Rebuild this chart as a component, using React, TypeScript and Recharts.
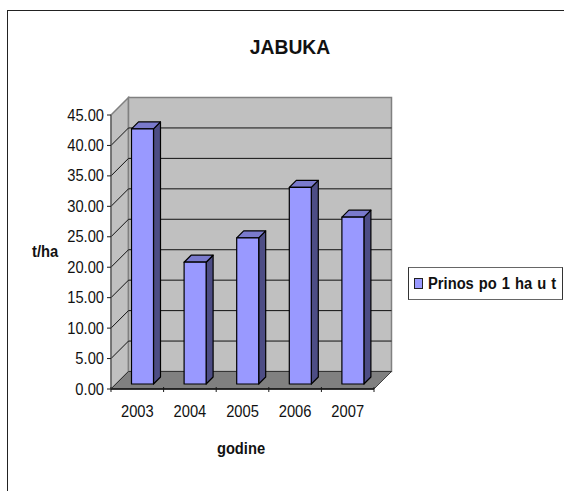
import React from 'react';
import { BarChart, Bar, XAxis, YAxis, CartesianGrid, ReferenceArea, Legend } from 'recharts';

const categories = ['2003', '2004', '2005', '2006', '2007'];
const values = [41.9, 20.0, 24.0, 32.3, 27.4];
const yTicks = [0, 5, 10, 15, 20, 25, 30, 35, 40, 45];
const seriesName = 'Prinos po 1 ha u t';
const data = categories.map((year, i) => ({ year, value: values[i] }));

const FONT = '"Liberation Sans", Arial, sans-serif';
const WALL_DEPTH = 17.5;
const BAR_DX = 5.5;
const BAR_DY = 5;
const BAR_DEPTH = 7;
const FRONT = '#9999FF';
const SIDE = '#4D4D85';
const TOP = '#7A7ACC';
const PLOT_W = 263;
const TEXT_SIZE = 16;
const TEXT_SQUEEZE = 0.92;

function Walls(props: any) {
  const { x, y, width, height } = props;
  const d = WALL_DEPTH;
  const b = y + height;
  const r = x + width;
  return (
    <g>
      <polygon points={`${x},${y} ${x + d},${y - d} ${x + d},${b - d} ${x},${b}`} fill="#C0C0C0" stroke="#808080" strokeWidth={1.5} />
      <rect x={x + d} y={y - d} width={width} height={height} fill="#C0C0C0" stroke="#808080" strokeWidth={1.5} />
      <polygon points={`${x},${b} ${r},${b} ${r + d},${b - d} ${x + d},${b - d}`} fill="#808080" stroke="#222" strokeWidth={0.8} />
    </g>
  );
}

function gridLine(props: any) {
  const { x1, x2, y1, key } = props;
  if (y1 == null) return <g key={key} />;
  const d = WALL_DEPTH;
  return (
    <g key={key}>
      <line x1={x1} y1={y1} x2={x1 + d} y2={y1 - d} stroke="#111" strokeWidth={1} />
      <line x1={x1 + d} y1={y1 - d} x2={x2 + d} y2={y1 - d} stroke="#111" strokeWidth={1} />
    </g>
  );
}

function Bar3D(props: any) {
  const { x, y, width, height } = props;
  const fx = x + BAR_DX;
  const fy = y - BAR_DY;
  const d = BAR_DEPTH;
  const s = { stroke: '#000', strokeWidth: 1.2, strokeLinejoin: 'round' as const };
  return (
    <g>
      <polygon points={`${fx + width},${fy} ${fx + width + d},${fy - d} ${fx + width + d},${fy + height - d} ${fx + width},${fy + height}`} fill={SIDE} {...s} />
      <polygon points={`${fx},${fy} ${fx + d},${fy - d} ${fx + width + d},${fy - d} ${fx + width},${fy}`} fill={TOP} {...s} />
      <rect x={fx} y={fy} width={width} height={height} fill={FRONT} {...s} />
    </g>
  );
}

// Tall, slightly condensed lettering as in the reference.
function Squeezed({ x, y, anchor, bold, size, children }: any) {
  return (
    <text transform={`translate(${x},${y}) scale(${TEXT_SQUEEZE},1)`} textAnchor={anchor} fontFamily={FONT} fontWeight={bold ? 700 : 400} fontSize={size ?? TEXT_SIZE} fill="#111">
      {children}
    </text>
  );
}

function XTick(props: any) {
  const { x, y, payload, index } = props;
  const band = PLOT_W / categories.length;
  const left = x - band / 2;
  const right = x + band / 2;
  const top = y - 8;
  return (
    <g>
      <line x1={left} y1={top} x2={left} y2={top + 5} stroke="#1a1a1a" strokeWidth={1} />
      {index === categories.length - 1 && <line x1={right} y1={top} x2={right} y2={top + 5} stroke="#1a1a1a" strokeWidth={1} />}
      <Squeezed x={x} y={top + 29.5} anchor="middle">{payload.value}</Squeezed>
    </g>
  );
}

function YTick(props: any) {
  const { x, y, payload } = props;
  return <Squeezed x={x} y={y + 5.5} anchor="end">{Number(payload.value).toFixed(2)}</Squeezed>;
}

function XTitle(props: any) {
  const { viewBox } = props;
  return <Squeezed x={viewBox.x + viewBox.width / 2 - 1.5} y={454} anchor="middle" bold>godine</Squeezed>;
}

function YTitle(props: any) {
  const { viewBox } = props;
  return <Squeezed x={32} y={viewBox.y + viewBox.height / 2 + 5} anchor="start" bold>t/ha</Squeezed>;
}

function LegendBox() {
  return (
    <div style={{ width: 153, height: 31, boxSizing: 'content-box', border: '1px solid #333', borderTopColor: '#666', borderBottomColor: '#666', background: '#fff', display: 'flex', alignItems: 'center', fontFamily: FONT, fontWeight: 700, fontSize: TEXT_SIZE, color: '#111', whiteSpace: 'nowrap', overflow: 'hidden' }}>
      <span style={{ display: 'inline-block', flexShrink: 0, width: 7, height: 9, marginLeft: 5, marginRight: 5, background: FRONT, border: '1px solid #222' }} />
      <span style={{ display: 'inline-block', flexShrink: 0, transform: `scale(${TEXT_SQUEEZE},1)`, transformOrigin: 'left center', wordSpacing: 1 }}>{seriesName}</span>
    </div>
  );
}

export default function App() {
  return (
    <div style={{ position: 'absolute', left: 0, top: 0, width: 564, height: 491, overflow: 'hidden', background: '#fff' }}>
      <div style={{ position: 'absolute', left: 7, top: 10, width: 570, height: 500, borderLeft: '1.5px solid #222', borderTop: '1.5px solid #222' }} />
      <div style={{ position: 'absolute', left: 0, top: 0 }}>
        <BarChart width={564} height={491} data={data} barCategoryGap={0} barSize={22} margin={{ top: 115, right: 190 - 155, bottom: 0, left: 0 }}>
          <ReferenceArea y1={0} y2={45} shape={Walls} zIndex={-200} fill="none" stroke="none" ifOverflow="visible" />
          <CartesianGrid vertical={false} horizontal={gridLine} horizontalValues={yTicks.slice(1, -1)} syncWithTicks={false} />
          <XAxis dataKey="year" height={102} axisLine={{ stroke: '#111', strokeWidth: 1.5 }} tickLine={false} tick={XTick} tickMargin={0} interval={0} label={XTitle} />
          <YAxis width={111} domain={[0, 45]} ticks={yTicks} interval={0}
            axisLine={{ stroke: '#555', strokeWidth: 1 }} tickLine={{ stroke: '#1a1a1a' }} tickSize={4} tickMargin={3}
            tick={YTick} label={YTitle} />
          <Bar dataKey="value" name={seriesName} isAnimationActive={false} shape={Bar3D} fill={FRONT} />
          <Legend layout="vertical" align="right" verticalAlign="middle" content={LegendBox}
            wrapperStyle={{ left: 408, top: 267, width: 155, height: 33, right: 'auto', bottom: 'auto' }} />
          <Squeezed x={290} y={54} anchor="middle" bold size={21}>JABUKA</Squeezed>
        </BarChart>
      </div>
    </div>
  );
}
